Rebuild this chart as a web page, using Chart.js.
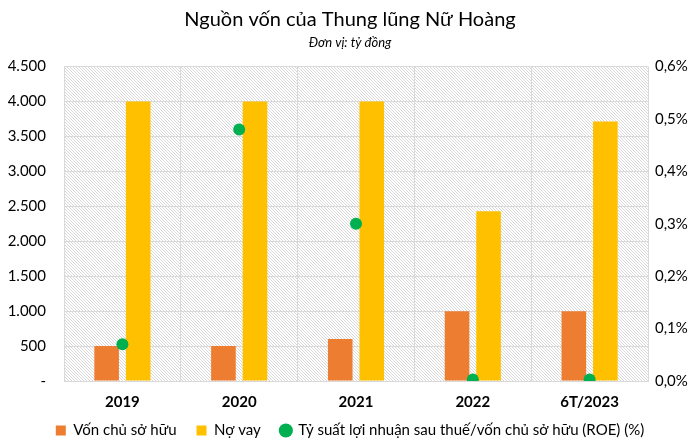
<!DOCTYPE html>
<html>
<head>
<meta charset="utf-8">
<script src="https://cdn.jsdelivr.net/npm/chart.js@4"></script>
<style>
  html, body { margin: 0; padding: 0; background: #ffffff; }
  #wrap { width: 700px; height: 446px; }
</style>
</head>
<body>
<div id="wrap"><canvas id="c" width="700" height="446"></canvas></div>
<script>
const categories = ['2019', '2020', '2021', '2022', '6T/2023'];
const vonChuSoHuu = [500, 500, 600, 1000, 1000];
const noVay = [4000, 4000, 4000, 2430, 3715];
const roe = [0.07, 0.48, 0.30, 0.003, 0.003];
const leftTicks = [0, 500, 1000, 1500, 2000, 2500, 3000, 3500, 4000, 4500];
const rightTicks = [0, 0.1, 0.2, 0.3, 0.4, 0.5, 0.6];

const FONT = 'Lato, "Open Sans", sans-serif';

function makePattern(ctx) {
  const p = document.createElement('canvas');
  p.width = 3; p.height = 3;
  const g = p.getContext('2d');
  g.fillStyle = '#ffffff';
  g.fillRect(0, 0, 3, 3);
  g.fillStyle = '#d8d8d8';
  g.fillRect(0, 0, 1, 1);
  g.fillRect(1, 1, 1, 1);
  g.fillRect(2, 2, 1, 1);
  return ctx.createPattern(p, 'repeat');
}

const bgPlugin = {
  id: 'hatchBg',
  afterLayout(chart) {
    // let x labels extend below the (thin) axis box, and nudge the legend down slightly
    const x = chart.scales.x;
    x.bottom = x.top + 34;
    if (chart.legend) {
      chart.legend.top += 2;
      chart.legend.bottom += 2;
    }
  },
  beforeDraw(chart) {
    const { ctx, chartArea } = chart;
    ctx.save();
    ctx.fillStyle = makePattern(ctx);
    ctx.fillRect(chartArea.left, chartArea.top, chartArea.right - chartArea.left, chartArea.bottom - chartArea.top);
    ctx.restore();
  }
};

function fmtLeft(v) {
  if (v === 0) return '-';
  return String(v).replace(/\B(?=(\d{3})+(?!\d))/g, '.');
}
function fmtRight(v) {
  return v.toFixed(1).replace('.', ',') + '%';
}

new Chart(document.getElementById('c'), {
  type: 'bar',
  data: {
    labels: categories,
    datasets: [
      {
        type: 'line',
        label: 'Tỷ suất lợi nhuận sau thuế/vốn chủ sở hữu (ROE) (%)',
        data: roe,
        yAxisID: 'y1',
        showLine: false,
        pointRadius: 6,
        pointHoverRadius: 6,
        pointStyle: 'circle',
        backgroundColor: '#00B050',
        borderColor: '#00B050',
        borderWidth: 0,
        order: 0
      },
      {
        label: 'Vốn chủ sở hữu',
        data: vonChuSoHuu,
        backgroundColor: '#ED7D31',
        yAxisID: 'y',
        categoryPercentage: 0.54,
        barPercentage: 0.78,
        pointStyle: 'rect',
        order: 1
      },
      {
        label: 'Nợ vay',
        data: noVay,
        backgroundColor: '#FFC000',
        yAxisID: 'y',
        categoryPercentage: 0.54,
        barPercentage: 0.78,
        pointStyle: 'rect',
        order: 2
      }
    ]
  },
  options: {
    responsive: false,
    animation: false,
    devicePixelRatio: 1,
    layout: { padding: { left: 0, right: 0, top: 0, bottom: 0 } },
    plugins: {
      title: {
        display: true,
        text: 'Nguồn vốn của Thung lũng Nữ Hoàng',
        color: '#000000',
        font: { family: FONT, size: 20, weight: 'normal' },
        padding: { top: 8, bottom: 3 }
      },
      subtitle: {
        display: true,
        text: 'Đơn vị: tỷ đồng',
        color: '#000000',
        font: { family: FONT, size: 13, style: 'italic', weight: 'normal' },
        padding: { top: 0, bottom: 16 }
      },
      legend: {
        position: 'bottom',
        labels: {
          generateLabels(chart) {
            const order = [1, 2, 0];
            return order.map(i => {
              const ds = chart.data.datasets[i];
              return {
                text: ds.label,
                fillStyle: ds.backgroundColor,
                strokeStyle: ds.backgroundColor,
                lineWidth: 0,
                pointStyle: i === 0 ? 'circle' : 'rect',
                datasetIndex: i,
                hidden: false,
                fontColor: '#000000'
              };
            });
          },
          usePointStyle: true,
          boxWidth: 10,
          boxHeight: 10,
          padding: 20,
          color: '#000000',
          font: { family: FONT, size: 15 }
        }
      },
      tooltip: { enabled: false }
    },
    scales: {
      x: {
        afterFit(axis) { axis.height = 20; },
        grid: { display: true, color: '#d9d9d9', drawTicks: false, offset: true },
        border: { display: true, color: '#d9d9d9' },
        ticks: { color: '#000000', padding: 14, font: { family: FONT, size: 15, weight: 'bold', lineHeight: 1 } }
      },
      y: {
        position: 'left',
        min: 0,
        max: 4500,
        afterBuildTicks(axis) { axis.ticks = leftTicks.map(v => ({ value: v })); },
        afterFit(axis) { axis.width = 64; },
        grid: { color: '#d9d9d9', drawTicks: false },
        border: { display: false },
        ticks: { color: '#000000', padding: 18, font: { family: FONT, size: 15 }, callback: v => fmtLeft(v) }
      },
      y1: {
        position: 'right',
        min: 0,
        max: 0.6,
        afterBuildTicks(axis) { axis.ticks = rightTicks.map(v => ({ value: v })); },
        afterFit(axis) { axis.width = 52; },
        grid: { display: false, drawTicks: false },
        border: { display: false },
        ticks: { color: '#000000', padding: 7, font: { family: FONT, size: 15 }, callback: v => fmtRight(v) }
      }
    }
  },
  plugins: [bgPlugin]
});
</script>
</body>
</html>
